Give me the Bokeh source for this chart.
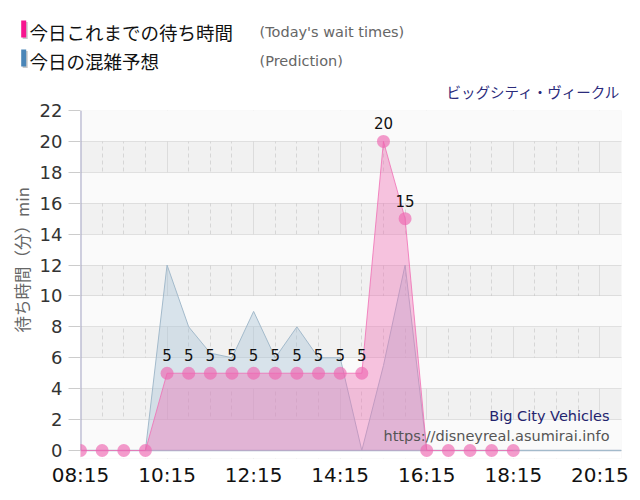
import math
from bokeh.plotting import figure
from bokeh.layouts import column
from bokeh.models import FixedTicker, Label, BoxAnnotation, ColumnDataSource, Range1d, Title
from bokeh.embed import file_html
from bokeh.resources import INLINE
from bokeh.core.properties import value

# ---------------- data ----------------
wait_times = ["08:15", "08:45", "09:15", "09:45", "10:15", "10:45", "11:15", "11:45",
              "12:15", "12:45", "13:15", "13:45", "14:15", "14:45", "15:15", "15:45",
              "16:15", "16:45", "17:15", "17:45", "18:15"]
wait_values = [0, 0, 0, 0, 5, 5, 5, 5, 5, 5, 5, 5, 5, 5, 20, 15, 0, 0, 0, 0, 0]

pred_times = ["08:15", "08:45", "09:15", "09:45", "10:15", "10:45", "11:15", "11:45",
              "12:15", "12:45", "13:15", "13:45", "14:15", "14:45", "15:15", "15:45",
              "16:15", "16:45", "17:15", "17:45", "18:15", "18:45", "19:15", "19:45",
              "20:15", "20:45"]
pred_values = [0, 0, 0, 0, 12, 8, 6.3, 6, 9, 6, 8, 6, 6, 0, 5.5, 12, 0, 0, 0, 0, 0, 0, 0, 0, 0, 0]

x_tick_labels = ["08:15", "10:15", "12:15", "14:15", "16:15", "18:15", "20:15"]
y_ticks = [0, 2, 4, 6, 8, 10, 12, 14, 16, 18, 20, 22]

legend_wait = "今日これまでの待ち時間"
legend_wait_en = "(Today's wait times)"
legend_pred = "今日の混雑予想"
legend_pred_en = "(Prediction)"
title_jp = "ビッグシティ・ヴィークル"
title_en = "Big City Vehicles"
site = "https://disneyreal.asumirai.info"
y_title = "待ち時間（分）min"


def to_h(t):
    hh, mm = t.split(":")
    return int(hh) + int(mm) / 60.0


wx = [to_h(t) for t in wait_times]
px_ = [to_h(t) for t in pred_times]
xt = [to_h(t) for t in x_tick_labels]
minor = [to_h(pred_times[0]) + 0.5 * i for i in range(len(pred_times))]

# ---------------- header figure (legend + title) ----------------
W = 640
HEAD = 101
head = figure(width=W, height=HEAD, output_backend="svg", toolbar_location=None,
              x_axis_type=None, y_axis_type=None,
              x_range=Range1d(0, W), y_range=Range1d(HEAD, 0),
              min_border_left=0, min_border_right=0, min_border_top=0, min_border_bottom=0)
head.frame_align = False
head.outline_line_color = None
head.background_fill_color = "white"
head.border_fill_color = "white"

for (y_top, y_bot, col) in [(20, 37, "#f7158f"), (49, 66, "#4a86b8")]:
    head.add_layout(BoxAnnotation(left=22.2, right=27.2, top=y_top + 1.5, bottom=y_bot + 1.5,
                                  fill_color="#c8c8c8", fill_alpha=1, line_color=None))
    head.add_layout(BoxAnnotation(left=20.7, right=25.7, top=y_top, bottom=y_bot,
                                  fill_color=col, fill_alpha=1, line_color=None))


def hlab(txt, x, y, font, size, color, align="left"):
    head.add_layout(Label(x=x, y=y, text=txt, text_font=font, text_font_size=size, text_color=color,
                          text_align=align, text_baseline="middle"))


hlab(legend_wait, 29, 31, "Noto Sans CJK JP", "18.5px", "#111111")
hlab(legend_wait_en, 259, 31, "DejaVu Sans", "14.5px", "#666666")
hlab(legend_pred, 29, 60, "Noto Sans CJK JP", "18.5px", "#111111")
hlab(legend_pred_en, 259, 60, "DejaVu Sans", "14.5px", "#666666")
hlab(title_jp, 620, 91, "Noto Sans CJK JP", "14.5px", "#2b2b7b", align="right")

# ---------------- main figure ----------------
H = 500 - HEAD
L, R, T, B = 80, 19, 110 - HEAD, 42
X0, X1 = px_[0], px_[-1]
Y_TOP_PX, Y_ZERO_PX = 110.0, 450.0          # page y of 22 and of 0
ppu = (Y_ZERO_PX - Y_TOP_PX) / (y_ticks[-1] - y_ticks[0])
fb = 500 - B
Y0 = -(fb - Y_ZERO_PX) / ppu
Y1 = y_ticks[-1]
fl, fr = L, W - R


def dx(px):
    return X0 + (px - fl) * (X1 - X0) / (fr - fl)


def dy(py):
    return (Y_ZERO_PX - py) / ppu


p = figure(width=W, height=H, output_backend="svg", toolbar_location=None,
           x_range=Range1d(X0, X1), y_range=Range1d(Y0, Y1),
           min_border_left=L, min_border_right=R, min_border_top=T, min_border_bottom=B)
p.frame_align = False
p.outline_line_color = None
p.background_fill_color = "#f1f1f1"
p.border_fill_color = "white"

p.xaxis.ticker = FixedTicker(ticks=xt, minor_ticks=minor)
p.xaxis.major_label_overrides = {v: s for v, s in zip(xt, x_tick_labels)}
p.yaxis.ticker = FixedTicker(ticks=y_ticks)

p.xgrid.grid_line_color = "#dcdcdc"
p.xgrid.grid_line_width = 1
p.xgrid.minor_grid_line_color = "#d6d6d6"
p.xgrid.minor_grid_line_dash = "4 3"
p.ygrid.grid_line_color = "#c8c8c8"
p.ygrid.grid_line_dash = "1 1"
p.ygrid.band_fill_color = "#fafafa"
p.ygrid.band_fill_alpha = 1.0

p.add_layout(BoxAnnotation(top=y_ticks[0], fill_color="white", fill_alpha=1.0, line_color=None, level="underlay"))

p.xaxis.axis_line_color = None
p.xaxis.major_tick_line_color = None
p.xaxis.major_tick_out = 0
p.xaxis.major_tick_in = 0
p.xaxis.minor_tick_line_color = None
p.xaxis.major_label_standoff = 0
p.xaxis.major_label_text_font = "DejaVu Sans"
p.xaxis.major_label_text_font_size = "20px"
p.xaxis.major_label_text_color = "#111111"

p.yaxis.axis_line_color = None
p.yaxis.major_tick_line_color = "#cccccc"
p.yaxis.major_tick_out = 12
p.yaxis.major_tick_in = 0
p.yaxis.minor_tick_line_color = None
p.yaxis.major_label_standoff = 6
p.yaxis.major_label_text_font = "DejaVu Sans"
p.yaxis.major_label_text_font_size = "18px"
p.yaxis.major_label_text_color = "#333333"

p.add_layout(Title(text=y_title, align="left", offset=fb - 332, text_font="Noto Sans CJK JP",
                   text_font_size="16.5px", text_color="#666666", text_font_style="normal", standoff=6), "left")

p.segment(x0=[X0], y0=[y_ticks[0]], x1=[X0], y1=[y_ticks[-1]], line_color="#a4a4c4", line_width=2)
p.segment(x0=[X0], y0=[0], x1=[X1], y1=[0], line_color="#aab8cc", line_width=1.5)

psrc = ColumnDataSource(dict(x=px_, y=pred_values, z=[0] * len(px_)))
p.varea(x="x", y1="z", y2="y", source=psrc, fill_color="#a9c4d6", fill_alpha=0.42)
p.line(x="x", y="y", source=psrc, line_color="#a3bacb", line_width=1)

wsrc = ColumnDataSource(dict(x=wx, y=wait_values, z=[0] * len(wx)))
p.varea(x="x", y1="z", y2="y", source=wsrc, fill_color="#f06eb4", fill_alpha=0.4)
p.line(x="x", y="y", source=wsrc, line_color="#f06eb4", line_width=1, line_alpha=0.8)
p.scatter(x="x", y="y", source=wsrc, size=13, fill_color="#ee66b0", fill_alpha=0.65, line_color=None)

lx = [x for x, v in zip(wx, wait_values) if v > 0]
ly = [v for v in wait_values if v > 0]
lsrc = ColumnDataSource(dict(x=lx, y=ly, t=[str(v) for v in ly]))
p.text(x="x", y="y", text="t", source=lsrc, text_font=value("DejaVu Sans"), text_font_size="15px",
       text_color="#111111", text_align="center", text_baseline="middle", y_offset=-18)


def lab(txt, x, y, font, size, color, align="left"):
    p.add_layout(Label(x=x, y=y, text=txt, text_font=font, text_font_size=size, text_color=color,
                       text_align=align, text_baseline="middle"))


lab(title_en, dx(609), dy(415), "DejaVu Sans", "14.5px", "#23236e", align="right")
lab(site, dx(609), dy(435), "DejaVu Sans", "14.5px", "#555555", align="right")

layout = column(head, p, spacing=0)
open("out.html", "w").write(file_html(layout, INLINE))
